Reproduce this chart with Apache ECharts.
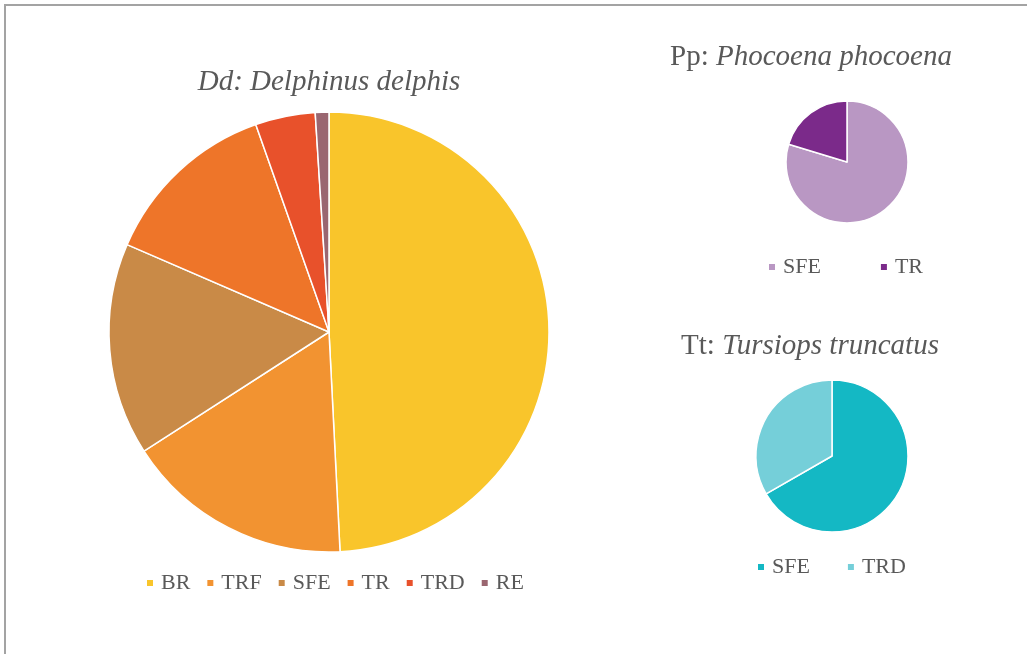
<!DOCTYPE html>
<html>
<head>
<meta charset="utf-8">
<script src="https://cdn.jsdelivr.net/npm/echarts@6/dist/echarts.min.js"></script>
<style>
  html, body { margin: 0; padding: 0; background: #fff; }
  #chart { width: 1027px; height: 654px; }
</style>
</head>
<body>
<div id="chart"></div>
<script>
// 数据
const ddNames = ['BR', 'TRF', 'SFE', 'TR', 'TRD', 'RE']
const ddValues = [49.2, 16.7, 15.6, 13.1, 4.4, 1.0]
const ddColors = ['#f9c52b', '#f29331', '#c98a47', '#ee7529', '#e8512b', '#9a6670']

const ppNames = ['SFE', 'TR']
const ppValues = [79.7, 20.3]
const ppColors = ['#b997c3', '#7b2a8a']

const ttNames = ['SFE', 'TRD']
const ttValues = [66.7, 33.3]
const ttColors = ['#14b8c4', '#75cfd9']

const FONT = '"Liberation Serif", "DejaVu Serif", serif'
const TXT = '#595959'

// 每个饼图单独着色（名称在各图之间重复）
const toData = (names, values, colors) =>
  names.map((n, i) => ({ name: n, value: values[i], itemStyle: { color: colors[i] } }))
const toLegend = (names, colors) =>
  names.map((n, i) => ({ name: n, itemStyle: { color: colors[i] } }))

const chart = echarts.init(document.getElementById('chart'))

const titleStyle = {
  fontFamily: FONT,
  fontSize: 29,
  fontWeight: 'normal',
  color: TXT,
  rich: {
    n: { fontFamily: FONT, fontSize: 29, color: TXT },
    i: { fontFamily: FONT, fontSize: 29, color: TXT, fontStyle: 'italic' }
  }
}

const legendBase = {
  orient: 'horizontal',
  icon: 'rect',
  itemWidth: 8,
  itemHeight: 8,
  padding: 0,
  selectedMode: false,
  textStyle: { fontFamily: FONT, fontSize: 22, color: TXT, padding: [0, 0, 0, 2] }
}

const pieBase = {
  type: 'pie',
  startAngle: 90,
  clockwise: true,
  label: { show: false },
  labelLine: { show: false },
  emphasis: { disabled: true },
  itemStyle: { borderColor: '#fff', borderWidth: 1.5 }
}

const option = {
  backgroundColor: '#fff',
  animation: false,
  graphic: [{
    type: 'rect',
    shape: { x: 5, y: 5, width: 1100, height: 700 },
    style: { fill: 'none', stroke: '#a3a3a3', lineWidth: 2 }
  }],
  title: [
    { text: '{i|Dd: Delphinus delphis}', left: 329, top: 68, textAlign: 'center', padding: 0, textStyle: titleStyle },
    { text: '{n|Pp: }{i|Phocoena phocoena}', left: 811, top: 43, textAlign: 'center', padding: 0, textStyle: titleStyle },
    { text: '{n|Tt: }{i|Tursiops truncatus}', left: 810, top: 332, textAlign: 'center', padding: 0, textStyle: titleStyle }
  ],
  legend: [
    Object.assign({}, legendBase, { data: toLegend(ddNames, ddColors), left: 145, top: 572, itemGap: 15 }),
    Object.assign({}, legendBase, { data: toLegend(ppNames, ppColors), left: 767, top: 256, itemGap: 58 }),
    Object.assign({}, legendBase, { data: toLegend(ttNames, ttColors), left: 756, top: 556, itemGap: 36 })
  ],
  series: [
    Object.assign({}, pieBase, {
      name: 'Dd',
      center: [329, 332],
      radius: 220,
      data: toData(ddNames, ddValues, ddColors)
    }),
    Object.assign({}, pieBase, {
      name: 'Pp',
      center: [847, 162],
      radius: 61,
      data: toData(ppNames, ppValues, ppColors)
    }),
    Object.assign({}, pieBase, {
      name: 'Tt',
      center: [832, 456],
      radius: 76,
      data: toData(ttNames, ttValues, ttColors)
    })
  ]
}

chart.setOption(option)
</script>
</body>
</html>
